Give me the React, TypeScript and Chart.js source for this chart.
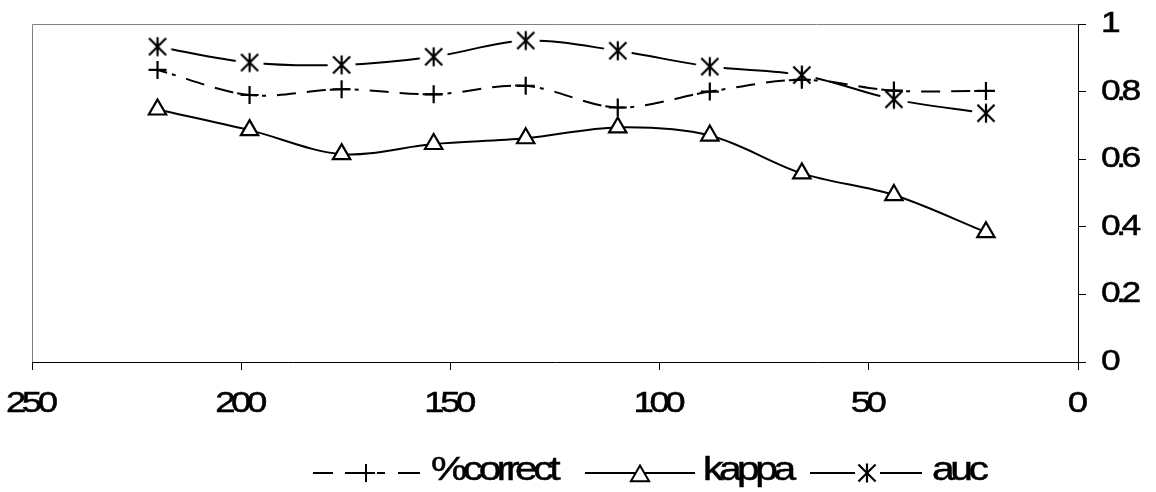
import React, { useEffect, useRef } from 'react';
import { Chart, registerables } from 'chart.js';

Chart.register(...registerables);

// ---- data ----
const xValues = [220, 198, 176, 154, 132, 110, 88, 66, 44, 22];
const pctCorrectValues = [0.864, 0.79, 0.807, 0.792, 0.817, 0.753, 0.8, 0.835, 0.803, 0.802];
const kappaValues = [0.747, 0.686, 0.615, 0.645, 0.662, 0.694, 0.67, 0.558, 0.494, 0.384];
const aucValues = [0.933, 0.886, 0.879, 0.903, 0.951, 0.921, 0.874, 0.849, 0.777, 0.736];
const seriesLabels = ['%correct', 'kappa', 'auc'];
const xTickValues = [0, 50, 100, 150, 200, 250];
const xTickLabels = ['0', '50', '100', '150', '200', '250'];
const yTickValues = [0, 0.2, 0.4, 0.6, 0.8, 1];
const yTickLabels = ['0', '0.2', '0.4', '0.6', '0.8', '1'];

// ---- styles ----
const FONT = '"Liberation Sans", Arial, Helvetica, sans-serif';
const DASH = [20, 5, 4, 11, 19, 11, 19, 4];

function strokeAsterisk(g: CanvasRenderingContext2D, cx: number, cy: number, arm: number, lw: number) {
  const d = arm * 0.9;
  g.save();
  g.strokeStyle = '#000';
  g.lineWidth = lw;
  g.setLineDash([]);
  g.beginPath();
  g.moveTo(cx, cy - arm);
  g.lineTo(cx, cy + arm);
  g.moveTo(cx - d, cy - d);
  g.lineTo(cx + d, cy + d);
  g.moveTo(cx + d, cy - d);
  g.lineTo(cx - d, cy + d);
  g.stroke();
  g.restore();
}

function makeAsteriskImage(): HTMLCanvasElement {
  const size = 32;
  const c = document.createElement('canvas');
  c.width = size;
  c.height = size;
  const g = c.getContext('2d')!;
  const m = size / 2;
  g.fillStyle = '#fff';
  g.beginPath();
  g.arc(m, m, 14, 0, Math.PI * 2);
  g.fill();
  strokeAsterisk(g, m, m, 9.5, 2.2);
  return c;
}

function strokeTriangle(g: CanvasRenderingContext2D, cx: number, cy: number, r: number) {
  g.save();
  g.setLineDash([]);
  g.beginPath();
  g.moveTo(cx, cy - r);
  g.lineTo(cx + r * Math.sin(Math.PI / 3), cy + r / 2);
  g.lineTo(cx - r * Math.sin(Math.PI / 3), cy + r / 2);
  g.closePath();
  g.fillStyle = '#fff';
  g.fill();
  g.strokeStyle = '#000';
  g.lineWidth = 2;
  g.stroke();
  g.restore();
}

function strokeCross(g: CanvasRenderingContext2D, cx: number, cy: number, r: number) {
  g.save();
  g.setLineDash([]);
  g.strokeStyle = '#000';
  g.lineWidth = 2;
  g.beginPath();
  g.moveTo(cx - r, cy);
  g.lineTo(cx + r, cy);
  g.moveTo(cx, cy - r);
  g.lineTo(cx, cy + r);
  g.stroke();
  g.restore();
}

function seg(g: CanvasRenderingContext2D, x1: number, x2: number, y: number) {
  g.beginPath();
  g.moveTo(x1, y);
  g.lineTo(x2, y);
  g.stroke();
}

// text drawn slightly widened with tight spacing, like the reference rendering
function drawText(
  g: CanvasRenderingContext2D,
  text: string,
  x: number,
  y: number,
  align: 'left' | 'center',
  size: number,
  sx: number,
  ls: number
) {
  g.save();
  g.font = `${size}px ${FONT}`;
  g.textAlign = 'left';
  const supportsLS = 'letterSpacing' in g;
  const useSx = supportsLS ? sx : 1;
  const useLs = supportsLS ? ls : 0;
  if (supportsLS) (g as any).letterSpacing = '0px';
  const w0 = g.measureText(text).width;
  const total = w0 * useSx + useLs * (text.length - 1);
  const start = align === 'center' ? x - total / 2 : x;
  if (supportsLS) (g as any).letterSpacing = `${useLs / useSx}px`;
  g.translate(start, y);
  g.scale(useSx, 1);
  g.fillStyle = '#000';
  g.fillText(text, 0, 0);
  g.strokeStyle = '#000';
  g.lineWidth = 0.5;
  g.strokeText(text, 0, 0);
  g.restore();
}

export default function App() {
  const ref = useRef<HTMLCanvasElement>(null);

  useEffect(() => {
    const canvas = ref.current;
    if (!canvas) return;
    const asterisk = makeAsteriskImage();
    const toPts = (ys: number[]) => xValues.map((x, i) => ({ x, y: ys[i] }));

    const decor = {
      id: 'decor',
      beforeDatasetsDraw(chart: any) {
        const { ctx, chartArea: a } = chart;
        ctx.save();
        ctx.strokeStyle = '#808080';
        ctx.lineWidth = 1;
        ctx.beginPath();
        ctx.moveTo(Math.round(a.left) + 0.5, Math.round(a.bottom));
        ctx.lineTo(Math.round(a.left) + 0.5, Math.round(a.top) + 0.5);
        ctx.lineTo(Math.round(a.right), Math.round(a.top) + 0.5);
        ctx.stroke();
        ctx.restore();
      },
      afterDraw(chart: any) {
        const { ctx, chartArea: a } = chart;
        const xs = chart.scales.x;
        const ys = chart.scales.y;
        ctx.save();
        ctx.textBaseline = 'middle';
        // x tick labels
        xTickValues.forEach((v, i) => {
          drawText(ctx, xTickLabels[i], xs.getPixelForValue(v), a.bottom + 42, 'center', 30, 1.22, -4.5);
        });
        // y tick labels
        yTickValues.forEach((v, i) => {
          drawText(ctx, yTickLabels[i], a.right + 23, ys.getPixelForValue(v), 'left', 29, 1.22, -4.5);
        });

        // legend
        const ly = 473;
        ctx.strokeStyle = '#000';
        ctx.lineWidth = 2;
        ctx.setLineDash([]);
        // %correct
        seg(ctx, 313, 333, ly);
        seg(ctx, 345, 365, ly);
        seg(ctx, 377, 385, ly);
        seg(ctx, 398, 420, ly);
        strokeCross(ctx, 366, ly, 9);
        // kappa
        seg(ctx, 585, 695, ly);
        strokeTriangle(ctx, 640, 476, 10.5);
        // auc
        seg(ctx, 810, 855, ly);
        seg(ctx, 880, 922, ly);
        strokeAsterisk(ctx, 867, ly, 9.5, 2.2);

        ctx.textBaseline = 'alphabetic';
        drawText(ctx, seriesLabels[0], 431, 480, 'left', 34, 1.2, -4.5);
        drawText(ctx, seriesLabels[1], 703, 480, 'left', 34, 1.2, -4.5);
        drawText(ctx, seriesLabels[2], 932, 480, 'left', 34, 1.2, -4.5);
        ctx.restore();
      },
    };

    const axisCommon = {
      type: 'linear' as const,
      ticks: { display: false },
      grid: { drawOnChartArea: false, drawTicks: true, tickLength: 8, color: '#000', lineWidth: 1 },
      border: { display: true, color: '#000', width: 1 },
    };

    const chart = new Chart(canvas, {
      type: 'line',
      data: {
        datasets: [
          {
            label: seriesLabels[0],
            data: toPts(pctCorrectValues),
            borderColor: '#000',
            borderWidth: 2,
            borderDash: DASH,
            borderDashOffset: 10,
            tension: 0.33,
            fill: false,
            pointStyle: 'cross',
            pointRadius: 9,
            pointBorderWidth: 2.2,
            pointBorderColor: '#000',
            pointBackgroundColor: '#000',
          },
          {
            label: seriesLabels[1],
            data: toPts(kappaValues),
            borderColor: '#000',
            borderWidth: 2,
            tension: 0.33,
            fill: false,
            pointStyle: 'triangle',
            pointRadius: 10,
            pointBorderWidth: 2.2,
            pointBorderColor: '#000',
            pointBackgroundColor: '#fff',
          },
          {
            label: seriesLabels[2],
            data: toPts(aucValues),
            borderColor: '#000',
            borderWidth: 2,
            tension: 0.33,
            fill: false,
            pointStyle: asterisk as any,
            pointRadius: 10,
          },
        ],
      },
      options: {
        responsive: false,
        animation: false,
        devicePixelRatio: 1,
        events: [],
        layout: { padding: { left: 32, top: 24, right: 70, bottom: 122 } },
        plugins: { legend: { display: false }, tooltip: { enabled: false } },
        scales: {
          x: {
            ...axisCommon,
            position: 'bottom',
            reverse: true,
            min: 0,
            max: 250,
            afterBuildTicks: (s: any) => {
              s.ticks = xTickValues.map((v) => ({ value: v }));
            },
          },
          y: {
            ...axisCommon,
            position: 'right',
            min: 0,
            max: 1,
            afterBuildTicks: (s: any) => {
              s.ticks = yTickValues.map((v) => ({ value: v }));
            },
          },
        },
      } as any,
      plugins: [decor],
    });

    return () => chart.destroy();
  }, []);

  return (
    <div style={{ position: 'fixed', left: 0, top: 0, width: 1156, height: 492, background: '#fff' }}>
      <canvas ref={ref} width={1156} height={492} style={{ display: 'block', width: 1156, height: 492 }} />
    </div>
  );
}
